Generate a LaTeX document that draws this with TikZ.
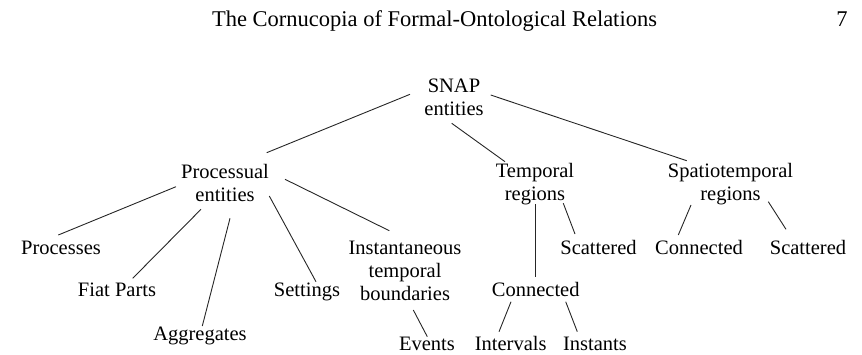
\documentclass[tikz,border=0pt]{standalone}
\usepackage{fontspec}
\setmainfont{Liberation Serif}
\usetikzlibrary{calc}
\begin{document}
\begin{tikzpicture}[x=1pt,y=1pt,
  lbl/.style={inner sep=0pt,anchor=base,align=center,
    font=\fontsize{20.5}{23}\selectfont},
  head/.style={inner sep=0pt,anchor=base,font=\fontsize{22.5}{26}\selectfont},
  link/.style={draw=black!85,line width=0.9pt}]
\useasboundingbox (0,0) rectangle (862,354);

% running head
\node[head] (title) at (434.5,327.3) {The Cornucopia of Formal-Ontological Relations};
\node[head] (page) at (842,327.3) {7};

% tree nodes (base anchor = baseline of last line)
\node[lbl] (snap) at (454,238.3) {SNAP\\entities};
\node[lbl] (proc) at (225,153) {Processual\\entities};
\node[lbl] (temp) at (535,154) {Temporal\\regions};
\node[lbl] (spat) at (730.5,154) {Spatiotemporal\\regions};
\node[lbl] (processes) at (61,100) {Processes};
\node[lbl] (fiat) at (117,57.3) {Fiat Parts};
\node[lbl] (aggr) at (200,14) {Aggregates};
\node[lbl] (sett) at (307,58) {Settings};
\node[lbl] (inst) at (405,54) {Instantaneous\\temporal\\boundaries};
\node[lbl] (events) at (427,4) {Events};
\node[lbl] (tscat) at (598.5,100) {Scattered};
\node[lbl] (tconn) at (535.7,57.3) {Connected};
\node[lbl] (interv) at (510.7,4) {Intervals};
\node[lbl] (instants) at (595,4) {Instants};
\node[lbl] (sconn) at (699,100) {Connected};
\node[lbl] (sscat) at (808,100) {Scattered};

% connectors
\draw[link] ($(snap.base)+(-44,21.4)$) -- ($(proc.base)+(41.7,48.3)$);
\draw[link] ($(snap.base)+(-2.3,-7.6)$) -- ($(temp.base)+(-30,38.3)$);
\draw[link] ($(snap.base)+(36.7,20.7)$) -- ($(spat.base)+(-43.8,39.3)$);

\draw[link] ($(proc.base)+(-49,14.3)$) -- ($(processes.base)+(-2.7,19)$);
\draw[link] ($(proc.base)+(-24,-8.3)$) -- ($(fiat.base)+(15.7,18.4)$);
\draw[link] ($(proc.base)+(5,-17.3)$) -- ($(aggr.base)+(2.3,14)$);
\draw[link] ($(proc.base)+(44.3,5)$) -- ($(sett.base)+(9,14.3)$);
\draw[link] ($(proc.base)+(60,21.7)$) -- ($(inst.base)+(-15.7,69.3)$);
\draw[link] ($(inst.base)+(8.3,-10)$) -- ($(events.base)+(0.3,13.3)$);

\draw[link] ($(temp.base)+(0.7,-4)$) -- ($(tconn.base)+(0,19.4)$);
\draw[link] ($(temp.base)+(28.3,-3.3)$) -- ($(tscat.base)+(-23.5,20)$);
\draw[link] ($(spat.base)+(-39.5,-5)$) -- ($(sconn.base)+(-20.7,19)$);
\draw[link] ($(spat.base)+(37.8,-1.7)$) -- ($(sscat.base)+(-22,24.7)$);
\draw[link] ($(tconn.base)+(-24.7,-5)$) -- ($(interv.base)+(-11.7,18.3)$);
\draw[link] ($(tconn.base)+(30,-5)$) -- ($(instants.base)+(-17.7,18.3)$);
\end{tikzpicture}
\end{document}
